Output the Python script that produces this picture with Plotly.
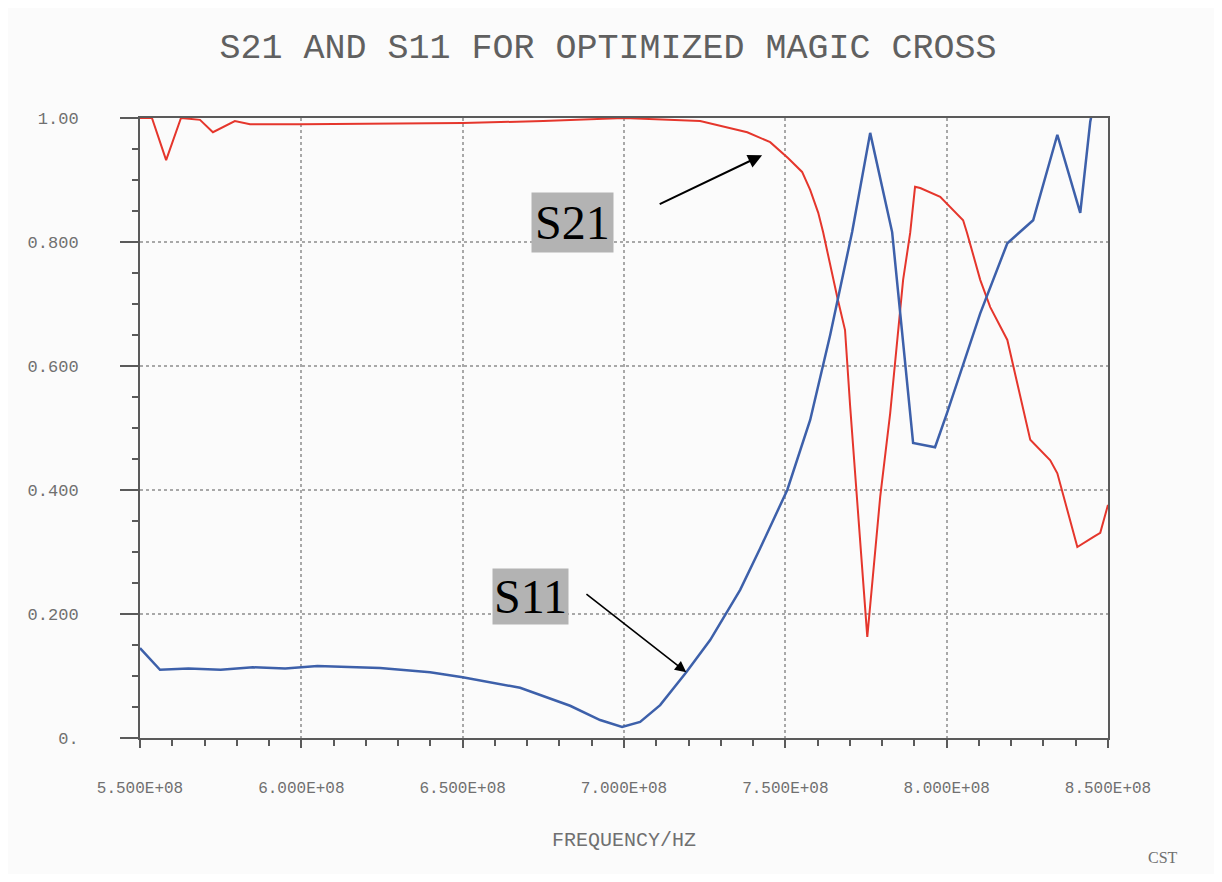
import plotly.graph_objects as go

# ---- data (frequency in Hz, magnitude) ----
s21_freq = [5.500e8, 5.537e8, 5.581e8, 5.627e8, 5.686e8, 5.726e8, 5.794e8, 5.841e8, 6.000e8, 6.250e8,
            6.500e8, 6.750e8, 6.926e8, 7.000e8, 7.236e8, 7.382e8, 7.453e8, 7.509e8, 7.552e8, 7.577e8,
            7.602e8, 7.617e8, 7.661e8, 7.685e8, 7.701e8, 7.754e8, 7.794e8, 7.825e8, 7.865e8, 7.887e8,
            7.902e8, 7.918e8, 7.980e8, 8.051e8, 8.063e8, 8.104e8, 8.135e8, 8.188e8, 8.259e8, 8.321e8,
            8.343e8, 8.405e8, 8.454e8, 8.476e8, 8.500e8]
s21_mag = [1.000, 1.000, 0.932, 1.000, 0.997, 0.977, 0.995, 0.990, 0.990, 0.991,
           0.992, 0.995, 0.998, 1.000, 0.995, 0.977, 0.961, 0.935, 0.913, 0.884,
           0.847, 0.816, 0.711, 0.658, 0.534, 0.163, 0.389, 0.524, 0.739, 0.815,
           0.889, 0.887, 0.873, 0.835, 0.815, 0.739, 0.695, 0.642, 0.481, 0.448,
           0.427, 0.308, 0.324, 0.331, 0.376]

s11_freq = [5.500e8, 5.562e8, 5.650e8, 5.750e8, 5.850e8, 5.950e8, 6.050e8, 6.244e8, 6.399e8, 6.500e8,
            6.678e8, 6.833e8, 6.926e8, 6.994e8, 7.050e8, 7.112e8, 7.193e8, 7.267e8, 7.360e8, 7.422e8,
            7.506e8, 7.577e8, 7.639e8, 7.707e8, 7.763e8, 7.831e8, 7.896e8, 7.964e8, 8.001e8, 8.104e8,
            8.188e8, 8.268e8, 8.343e8, 8.414e8, 8.445e8, 8.470e8]
s11_mag = [0.145, 0.110, 0.112, 0.110, 0.114, 0.112, 0.116, 0.113, 0.106, 0.098,
           0.081, 0.052, 0.029, 0.018, 0.026, 0.053, 0.106, 0.158, 0.239, 0.306,
           0.400, 0.513, 0.650, 0.816, 0.976, 0.816, 0.476, 0.469, 0.524, 0.685,
           0.798, 0.835, 0.973, 0.847, 0.994, 1.060]

x_ticks = [5.5e8, 6.0e8, 6.5e8, 7.0e8, 7.5e8, 8.0e8, 8.5e8]
x_labels = ["5.500E+08", "6.000E+08", "6.500E+08", "7.000E+08", "7.500E+08", "8.000E+08", "8.500E+08"]
y_ticks = [0.0, 0.2, 0.4, 0.6, 0.8, 1.0]
y_labels = ["0.", "0.200", "0.400", "0.600", "0.800", "1.00"]

MONO = "Liberation Mono, Courier New, monospace"
SERIF = "Liberation Serif, Times New Roman, serif"
AXC = "#5a5a5a"
LBL = "#707070"
BG = "#fbfbfb"

# figure geometry (page body adds an 8px offset)
OFF = 8
W, H = 1206, 866
L, R, T, B = 132, 106, 110, 136
pw, ph = W - L - R, H - T - B


def px(x):
    return (x - OFF - L) / pw


def py(y):
    return 1 - (y - OFF - T) / ph


fig = go.Figure()
fig.add_trace(go.Scatter(x=s21_freq, y=s21_mag, mode="lines", name="S21",
                         line=dict(color="#e5362c", width=2)))
fig.add_trace(go.Scatter(x=s11_freq, y=s11_mag, mode="lines", name="S11",
                         line=dict(color="#3d60aa", width=2.5)))

fig.update_layout(
    width=W, height=H,
    paper_bgcolor=BG, plot_bgcolor=BG,
    margin=dict(l=L, r=R, t=T, b=B),
    showlegend=False,
    title=dict(text="S21 AND S11 FOR OPTIMIZED MAGIC CROSS", x=(608 - OFF) / W, xanchor="center",
               y=1 - (46 - OFF) / H, yanchor="middle",
               font=dict(family=MONO, size=35, color="#606060")),
)
fig.update_xaxes(
    range=[5.5e8, 8.5e8], tickvals=x_ticks, ticktext=x_labels,
    showline=True, linecolor=AXC, linewidth=2, mirror=True,
    ticks="outside", ticklen=8, tickcolor=AXC, tickwidth=1.5, ticklabelstandoff=26,
    tickfont=dict(family=MONO, size=16, color=LBL),
    showgrid=True, gridcolor="#a8a8a8", griddash="dot", gridwidth=1.5,
    zeroline=False,
    minor=dict(tick0=5.5e8, dtick=1e7, ticks="outside", ticklen=6, tickcolor=AXC, showgrid=False),
    title=dict(text="FREQUENCY/HZ", font=dict(family=MONO, size=20, color=LBL), standoff=35),
)
fig.update_yaxes(
    range=[0, 1.0], tickvals=y_ticks, ticktext=y_labels,
    showline=True, linecolor=AXC, linewidth=2, mirror=True,
    ticks="outside", ticklen=18, tickcolor=AXC, tickwidth=1.5, ticklabelstandoff=38,
    tickfont=dict(family=MONO, size=17, color=LBL),
    showgrid=True, gridcolor="#a8a8a8", griddash="dot", gridwidth=1.5,
    zeroline=False,
    minor=dict(tick0=0, dtick=0.05, ticks="outside", ticklen=6, tickcolor=AXC, showgrid=False),
)

# S21 / S11 labels with arrows
fig.add_annotation(x=7.428e8, y=0.940, ax=7.106e8, ay=0.860, xref="x", yref="y", axref="x", ayref="y",
                   text="", showarrow=True, arrowhead=2, arrowsize=1.4, arrowwidth=2, arrowcolor="black")
fig.add_annotation(x=7.193e8, y=0.106, ax=6.879e8, ay=0.234, xref="x", yref="y", axref="x", ayref="y",
                   text="", showarrow=True, arrowhead=2, arrowsize=1.4, arrowwidth=1.6, arrowcolor="black")
fig.add_annotation(x=px(572), y=py(223), xref="paper", yref="paper", xanchor="center", yanchor="middle",
                   text="S21", showarrow=False,
                   font=dict(family=SERIF, size=48, color="black"), bgcolor="#b3b3b3", borderpad=3)
fig.add_annotation(x=px(530), y=py(596), xref="paper", yref="paper", xanchor="center", yanchor="middle",
                   text="S11", showarrow=False,
                   font=dict(family=SERIF, size=48, color="black"), bgcolor="#b3b3b3", borderpad=1)
fig.add_annotation(x=px(1163), y=py(857), xref="paper", yref="paper", xanchor="center", yanchor="middle",
                   text="CST", showarrow=False,
                   font=dict(family=SERIF, size=16, color=LBL))

fig.write_html("out.html")
